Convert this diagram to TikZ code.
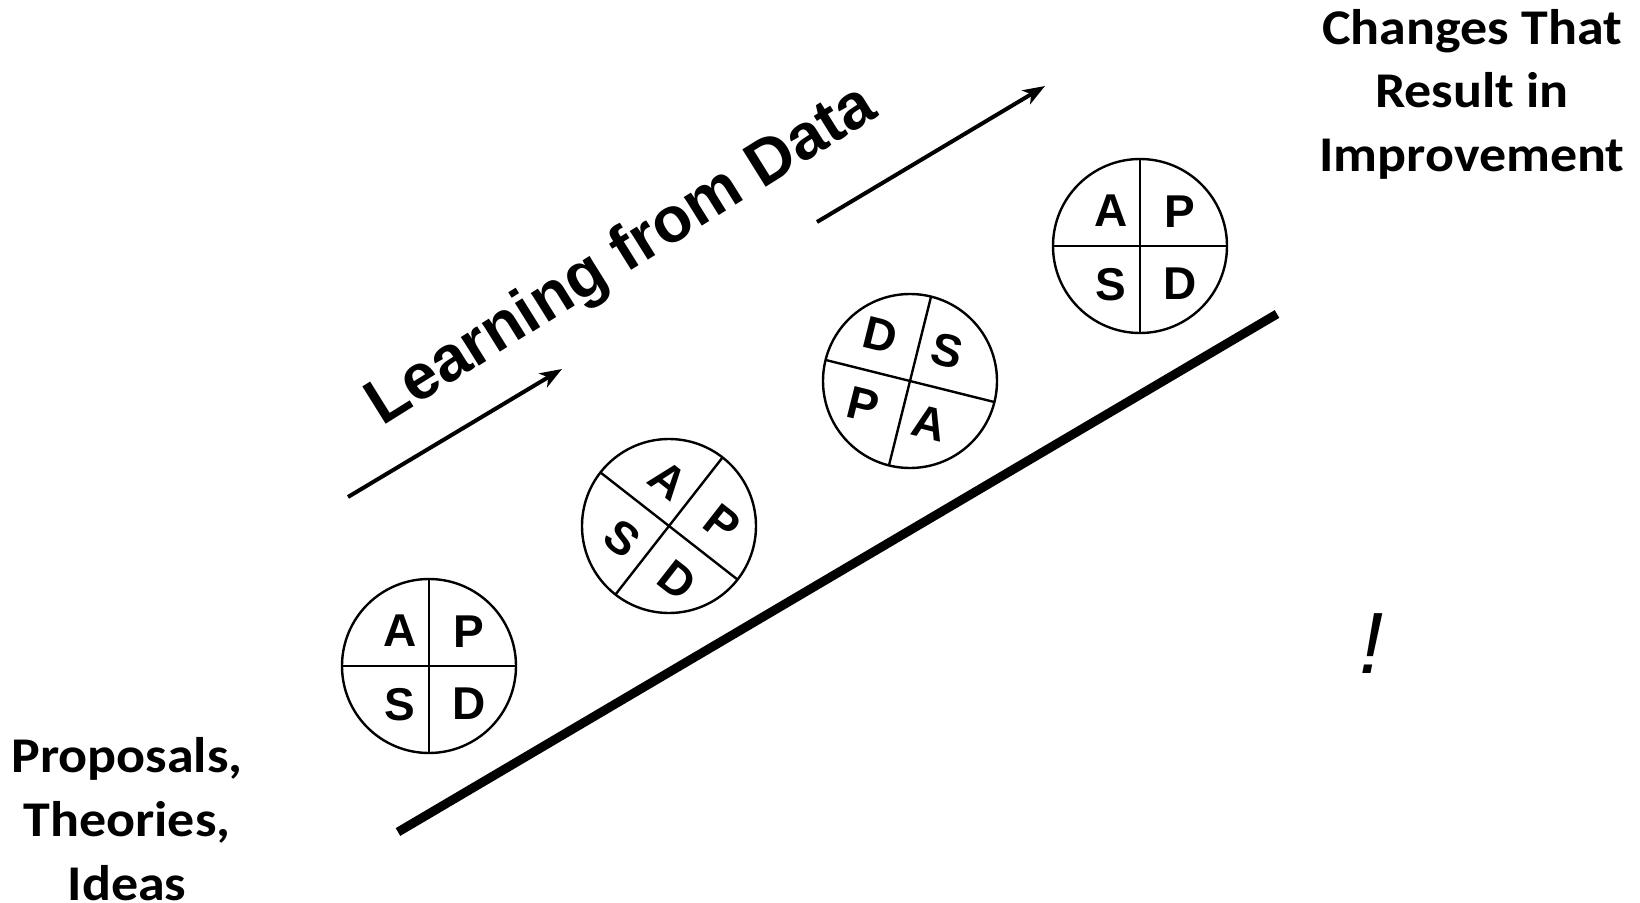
\documentclass[tikz,border=0pt]{standalone}
\usepackage{fontspec}
\setmainfont{Liberation Sans}
\newfontfamily\carlito[FakeStretch=1.08]{Carlito}
\usetikzlibrary{arrows.meta,calc,positioning}
\begin{document}
\begin{tikzpicture}[
  x=0.5pt,y=0.5pt,
  >={Stealth[length=11pt,width=8pt,inset=3pt]},
  wheel/.style={circle,draw,line width=1.2pt,minimum size=87pt,inner sep=0pt,outer sep=0pt},
  spoke/.style={line width=1.2pt},
  letter/.style={font=\fontsize{23}{27}\selectfont\bfseries,inner sep=0pt},
  lbl/.style={font=\carlito\fontsize{25}{31.5}\selectfont\bfseries,align=center,inner sep=0pt},
  trend/.style={->,line width=2pt},
  ramp/.style={line width=4.5pt}
]
\useasboundingbox (0,0) rectangle (1640,902);

% PDSA wheels rolling up the ramp
\node[wheel] (w1) at (429,236) {};
\node[wheel] (w2) at (669,376) {};
\node[wheel] (w3) at (910,521) {};
\node[wheel] (w4) at (1140,656) {};

\draw[spoke] (w1.north) -- (w1.south) (w1.west) -- (w1.east);
\draw[spoke] (w2.52) -- (w2.232) (w2.142) -- (w2.-38);
\draw[spoke] (w3.76) -- (w3.256) (w3.166) -- (w3.-14);
\draw[spoke] (w4.north) -- (w4.south) (w4.west) -- (w4.east);

\foreach \w/\turn/\tilt in {w1/0/0,w2/-38/-38,w3/-194/-14,w4/0/0}
  \foreach \l/\ang/\dist in {A/129/46,P/41/53,S/233/48,D/-43/55}
    \node[letter,rotate=\tilt] (\w\l) at ($(\w.center)+({\ang+(\turn)}:\dist)$) {\l};

% ramp and trend arrows
\coordinate (rampL) at (398,70);
\coordinate (rampR) at (1277,588);
\draw[ramp] (rampL) -- (rampR);

\coordinate (a1s) at (348,405);
\coordinate (a1e) at (562,533);
\coordinate (a2s) at (817,680);
\coordinate (a2e) at (1045,816);
\draw[trend] (a1s) -- (a1e);
\draw[trend] (a2s) -- (a2e);

\node[font=\fontsize{32}{36}\selectfont\bfseries,rotate=32,anchor=base] (learn) at (631,631) {Learning from Data};

% last line sits on the anchor
\node[lbl,anchor=base] (goal)  at (1472,731) {Changes That\\Result in\\Improvement};
\node[lbl,anchor=base,font=\carlito\fontsize{25}{32}\selectfont\bfseries] (ideas) at (127,2) {Proposals,\\Theories,\\Ideas};
\node[font=\fontsize{43.5}{50}\selectfont\itshape,anchor=base] (bang) at (1372,229) {!};
\end{tikzpicture}
\end{document}
